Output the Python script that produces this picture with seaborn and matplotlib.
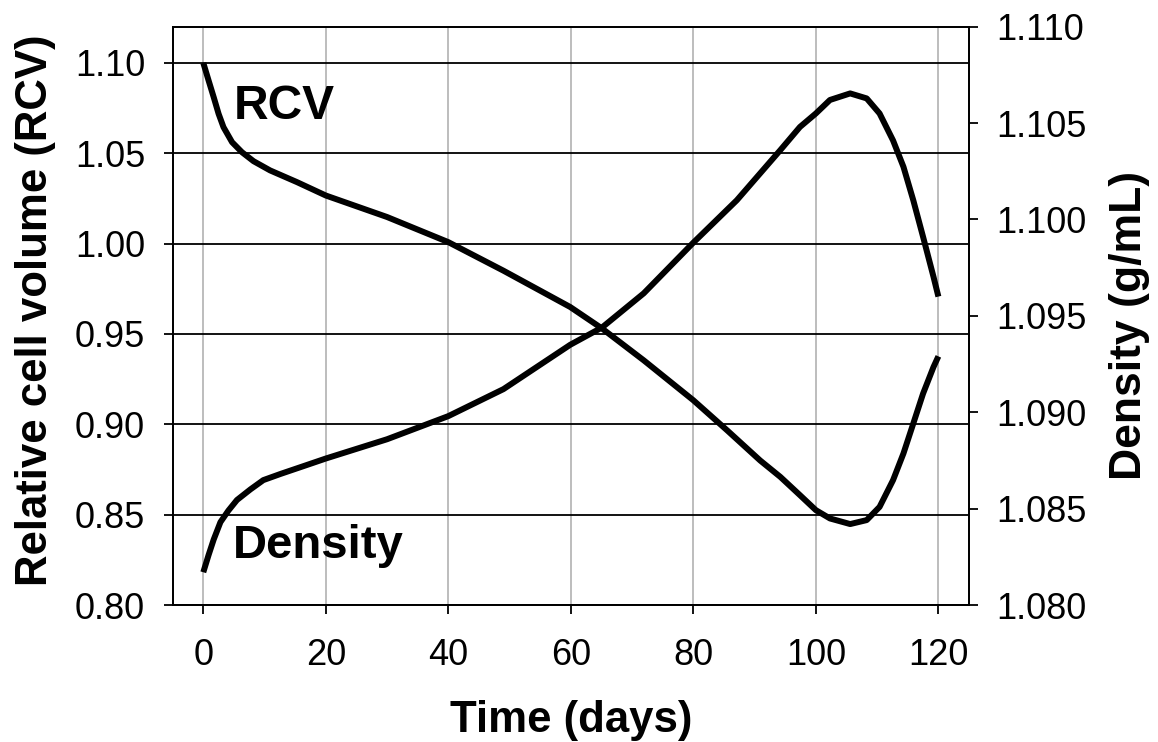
import matplotlib
matplotlib.use("Agg")
import matplotlib.pyplot as plt
import seaborn as sns

# ---- data ----
rcv_days = [0, 0.87, 1.7, 2.5, 3.3, 4.7, 6.3, 8.2, 10.9, 15.3, 20, 30, 40, 49, 59.9,
            65.1, 71.9, 80, 85.5, 90.9, 94.2, 97.4, 100, 102.3, 105.6, 108.3, 110.4,
            112.6, 114.3, 115.9, 117.5, 119.2, 120]
rcv_vals = [1.100, 1.0902, 1.081, 1.0718, 1.0644, 1.0561, 1.0506, 1.0456, 1.0405, 1.0340,
            1.0266, 1.0147, 1.0008, 0.985, 0.9649, 0.953, 0.9354, 0.9133, 0.8967, 0.880,
            0.8709, 0.8608, 0.8525, 0.8479, 0.8448, 0.8470, 0.8543, 0.8691, 0.8839,
            0.9004, 0.9170, 0.9317, 0.9376]

dens_days = [0, 0.87, 1.7, 2.8, 4.1, 5.5, 7.7, 9.8, 12.6, 16.4, 20, 30, 40, 49, 59.9,
             65.1, 71.9, 80, 87.1, 94.2, 97.4, 100, 102.3, 105.6, 108.3, 110.4, 112.6,
             114.3, 115.9, 117.5, 119.2, 120]
dens_vals = [1.0817, 1.0826, 1.0834, 1.0843, 1.0849, 1.08545, 1.0860, 1.08648, 1.0868,
             1.08721, 1.0876, 1.0886, 1.0898, 1.0912, 1.0935, 1.0944, 1.09617, 1.0988,
             1.1010, 1.1036, 1.1048, 1.1055, 1.1062, 1.10654, 1.10628, 1.1055, 1.1041,
             1.10273, 1.1010, 1.0991, 1.09703, 1.0960]

x_ticks = [0, 20, 40, 60, 80, 100, 120]
left_ticks = [0.80, 0.85, 0.90, 0.95, 1.00, 1.05, 1.10]
right_ticks = [1.080, 1.085, 1.090, 1.095, 1.100, 1.105, 1.110]

sns.set_style("white")
plt.rcParams['font.family'] = ['Liberation Sans', 'DejaVu Sans']
plt.rcParams['text.color'] = 'black'
plt.rcParams['axes.labelcolor'] = 'black'
plt.rcParams['xtick.color'] = 'black'
plt.rcParams['ytick.color'] = 'black'

fig = plt.figure(figsize=(11.58, 7.42), dpi=100)
ax = fig.add_axes([0.1491, 0.1846, 0.6877, 0.7794])
ax2 = ax.twinx()

lw = 4.3
sns.lineplot(x=rcv_days, y=rcv_vals, ax=ax, color='black', linewidth=lw,
             solid_capstyle='butt', solid_joinstyle='round', sort=False, estimator=None)
sns.lineplot(x=dens_days, y=dens_vals, ax=ax2, color='black', linewidth=lw,
             solid_capstyle='butt', solid_joinstyle='round', sort=False, estimator=None)

ax.set_xlim(-5, 125)
ax.set_ylim(0.80, 1.12)
ax2.set_ylim(1.080, 1.110)

ax.set_xticks(x_ticks)
ax.set_xticklabels([str(t) for t in x_ticks])
ax.set_yticks(left_ticks)
ax.set_yticklabels([f"{t:.2f}" for t in left_ticks])
ax2.set_yticks(right_ticks)
ax2.set_yticklabels([f"{t:.3f}" for t in right_ticks])

ax.set_axisbelow(True)
ax.grid(axis='y', color='black', linewidth=1.3)
ax.grid(axis='x', color='#bdbdbd', linewidth=1.4)
ax2.grid(False)

for a in (ax, ax2):
    for s in a.spines.values():
        s.set_color('black')
        s.set_linewidth(1.3)
        s.set_visible(True)

ax.tick_params(axis='x', which='major', direction='out', length=6.8, width=1.3,
               color='black', labelcolor='black', labelsize=26, pad=17, bottom=True)
ax.tick_params(axis='y', which='major', direction='out', length=6.8, width=1.3,
               color='black', labelcolor='black', labelsize=26, pad=13, left=True)
ax2.tick_params(axis='y', direction='out', length=6.8, width=1.3, color='black',
                labelcolor='black', labelsize=26, pad=13, right=True)

ax.set_xlabel("Time (days)", fontsize=31.5, fontweight='bold', color='black')
ax.xaxis.set_label_coords(0.5, -0.165)
ax.set_ylabel("Relative cell volume (RCV)", fontsize=31.5, fontweight='bold', color='black')
ax.yaxis.set_label_coords(-0.146, 0.51)
ax2.set_ylabel("Density (g/mL)", fontsize=32, fontweight='bold', color='black')
ax2.yaxis.set_label_coords(1.176, 0.484)

ax.text(4.9, 1.0687, "RCV", fontsize=34.5, fontweight='bold', ha='left', va='baseline',
        color='black')
ax.text(4.9, 0.8258, "Density", fontsize=34, fontweight='bold', ha='left', va='baseline',
        color='black')

fig.savefig("out.png", dpi=100)
